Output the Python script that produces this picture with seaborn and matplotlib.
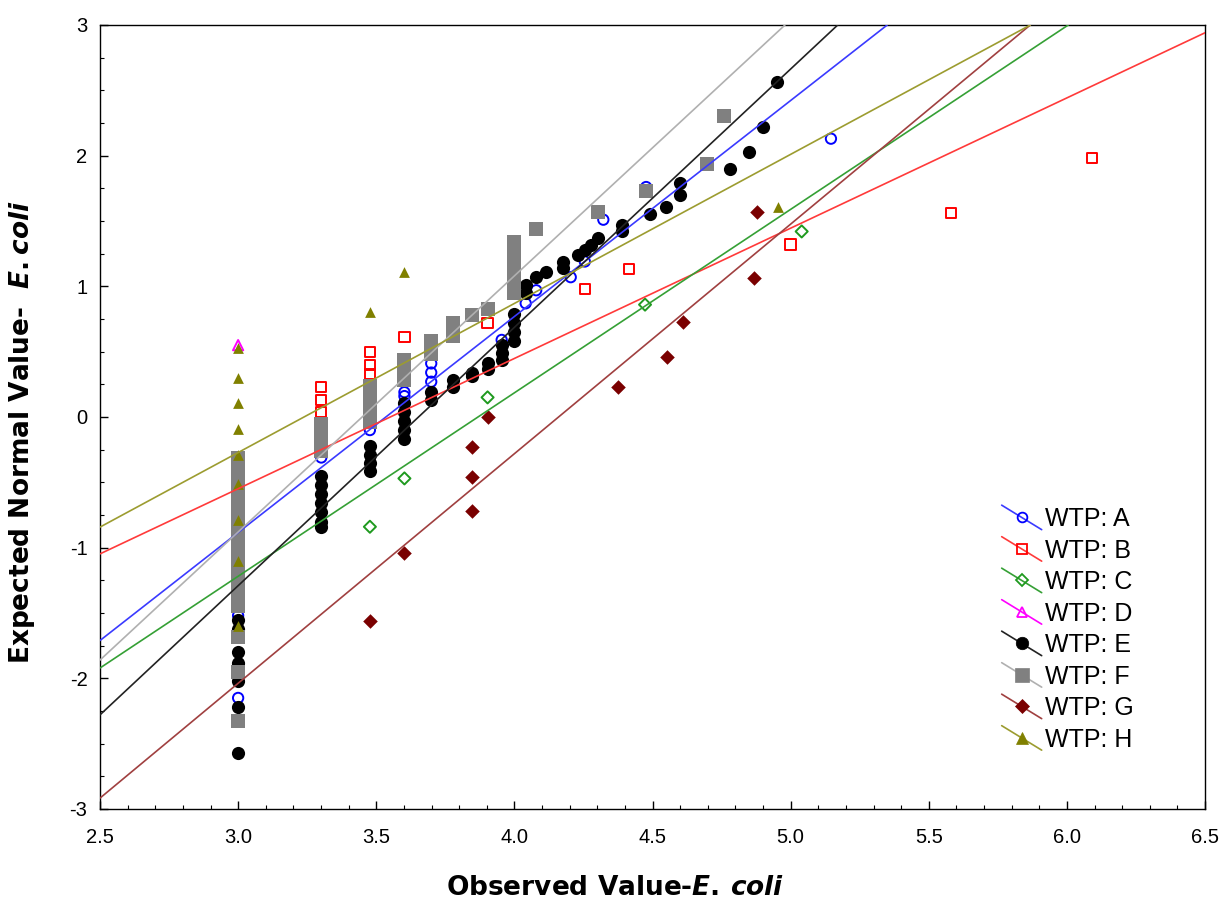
import matplotlib
matplotlib.use("Agg")
import matplotlib.pyplot as plt
from matplotlib.lines import Line2D
from matplotlib.legend_handler import HandlerLine2D
from matplotlib.ticker import MultipleLocator, FormatStrFormatter
import seaborn as sns

# observed log10 E. coli values and expected normal scores, per plant
A_x = [3.0, 3.0, 3.301, 3.477, 3.602, 3.602, 3.699, 3.699, 3.699, 3.954,
       4.041, 4.079, 4.204, 4.255, 4.322, 4.477, 5.146]
A_y = [-2.15, -1.52, -0.31, -0.10, 0.16, 0.19, 0.27, 0.34, 0.41, 0.59,
       0.87, 0.97, 1.07, 1.19, 1.51, 1.76, 2.13]

B_x = [3.301, 3.301, 3.301, 3.477, 3.477, 3.477, 3.602, 3.903, 4.255, 4.415,
       5.0, 5.58, 6.09]
B_y = [0.23, 0.13, 0.04, 0.50, 0.40, 0.33, 0.61, 0.72, 0.98, 1.13,
       1.32, 1.56, 1.98]

C_x = [3.477, 3.602, 3.903, 4.473, 5.04]
C_y = [-0.84, -0.47, 0.15, 0.86, 1.42]

D_x = [3.0]
D_y = [0.55]

E_x = [3.0, 3.0, 3.0, 3.0, 3.0, 3.0, 3.0,
       3.301, 3.301, 3.301, 3.301, 3.301, 3.301, 3.301,
       3.477, 3.477, 3.477, 3.477,
       3.602, 3.602, 3.602, 3.602, 3.602,
       3.699, 3.699, 3.778, 3.778, 3.845, 3.845, 3.903, 3.903,
       3.954, 3.954, 3.954, 4.0, 4.0, 4.0, 4.0,
       4.041, 4.041, 4.079, 4.114, 4.176, 4.176, 4.23, 4.255, 4.279, 4.301,
       4.39, 4.39, 4.49, 4.55, 4.60, 4.60, 4.78, 4.85, 4.90, 4.95]
E_y = [-1.55, -1.62, -1.80, -1.88, -2.02, -2.22, -2.57,
       -0.45, -0.52, -0.59, -0.66, -0.73, -0.80, -0.84,
       -0.22, -0.29, -0.35, -0.41,
       0.11, 0.04, -0.03, -0.10, -0.17,
       0.19, 0.13, 0.28, 0.23, 0.34, 0.31, 0.41, 0.37,
       0.55, 0.49, 0.44, 0.79, 0.72, 0.65, 0.58,
       1.01, 0.95, 1.07, 1.11, 1.19, 1.14, 1.24, 1.28, 1.32, 1.37,
       1.47, 1.42, 1.55, 1.61, 1.79, 1.70, 1.90, 2.03, 2.22, 2.56]

F_x = [3.0] * 18 + [3.301] * 4 + [3.477] * 5 + [3.602] * 3 + [3.699] * 2 + \
      [3.778] * 2 + [3.845, 3.903] + [4.0] * 6 + [4.079, 4.301, 4.477, 4.699, 4.76]
F_y = [-0.31, -0.39, -0.47, -0.55, -0.63, -0.71, -0.79, -0.87, -0.95, -1.03,
       -1.11, -1.19, -1.27, -1.35, -1.45, -1.68, -1.95, -2.33,
       -0.05, -0.12, -0.19, -0.26,
       0.24, 0.16, 0.08, 0.01, -0.04,
       0.44, 0.36, 0.28,
       0.58, 0.48,
       0.72, 0.62, 0.78, 0.83,
       1.34, 1.26, 1.18, 1.10, 1.02, 0.95,
       1.44, 1.57, 1.73, 1.94, 2.30]

G_x = [3.477, 3.602, 3.845, 3.845, 3.845, 3.903, 4.375, 4.552, 4.61, 4.867, 4.878]
G_y = [-1.56, -1.04, -0.72, -0.46, -0.23, 0.0, 0.23, 0.46, 0.73, 1.06, 1.57]

H_x = [3.0] * 9 + [3.477, 3.602, 4.954]
H_y = [0.53, 0.30, 0.11, -0.09, -0.29, -0.51, -0.79, -1.10, -1.60, 0.80, 1.11, 1.61]

groups = ["A", "B", "C", "D", "E", "F", "G", "H"]
xs = [A_x, B_x, C_x, D_x, E_x, F_x, G_x, H_x]
ys = [A_y, B_y, C_y, D_y, E_y, F_y, G_y, H_y]
# fitted lines: intercept, slope (None = no line)
intercepts = [-5.843, -3.54, -5.431, None, -7.222, -6.76, -7.309, -3.695]
slopes = [1.653, 0.997, 1.404, None, 1.977, 1.96, 1.757, 1.141]

mark_col = ["#0000ff", "#ff0000", "#1f9a1f", "#ff00ff", "#000000", "#808080", "#7a0000", "#808000"]
line_col = ["#3a3aff", "#ff3a3a", "#35a035", "#ff00ff", "#222222", "#b0b0b0", "#a04040", "#9c9c30"]
markers = ["o", "s", "D", "^", "o", "s", "D", "^"]
hollow = [True, True, True, True, False, False, False, False]
sizes = [55, 55, 38, 55, 90, 100, 55, 60]
leg_ms = [7, 7, 6, 7, 9, 10, 7, 8]

sns.set_theme(style="ticks")
plt.rcParams["font.family"] = ["Liberation Sans", "DejaVu Sans"]
plt.rcParams["axes.unicode_minus"] = False
plt.rcParams["text.color"] = "black"
plt.rcParams["axes.labelcolor"] = "black"
plt.rcParams["mathtext.fontset"] = "custom"
plt.rcParams["mathtext.rm"] = "DejaVu Sans:bold"
plt.rcParams["mathtext.it"] = "DejaVu Sans:italic:bold"

fig = plt.figure(figsize=(12.25, 9.02), dpi=100)
ax = fig.add_axes([100 / 1225, 1 - 809 / 902, 1105 / 1225, 784 / 902])

handles = []
for g, x, y, mc, lc, m, h, s, lm, a, b in zip(groups, xs, ys, mark_col, line_col, markers,
                                               hollow, sizes, leg_ms, intercepts, slopes):
    sns.scatterplot(x=x, y=y, ax=ax, marker=m, s=s, color=mc, linewidth=0, zorder=2)
    pts = ax.collections[-1]
    if h:
        pts.set_facecolor("none")
        pts.set_edgecolor(mc)
        pts.set_linewidth(1.4)
    if a is not None:
        ax.axline((0, a), slope=b, color=lc, lw=1.2, zorder=3)
    handles.append(Line2D([], [], color=lc, lw=1.2, marker=m, ms=lm,
                          mfc="none" if h else mc, mec=mc, mew=1.3 if h else 0.5,
                          label=f"WTP: {g}"))


class SlantHandler(HandlerLine2D):
    def create_artists(self, legend, orig, xdescent, ydescent, width, height, fontsize, trans):
        x0 = -xdescent
        x1 = x0 + width
        ym = -ydescent + height / 2
        dy = height * 0.7
        ln = Line2D([x0, x1], [ym + dy, ym - dy], color=orig.get_color(), lw=orig.get_linewidth())
        mk = Line2D([(x0 + x1) / 2], [ym], ls="none", marker=orig.get_marker(),
                    ms=orig.get_markersize(), mfc=orig.get_markerfacecolor(),
                    mec=orig.get_markeredgecolor(), mew=orig.get_markeredgewidth())
        ln.set_transform(trans)
        mk.set_transform(trans)
        return [ln, mk]


leg = ax.legend(handles=handles, handler_map={Line2D: SlantHandler()}, loc="upper left",
                bbox_to_anchor=(0.816, 0.385), frameon=False, fontsize=18,
                handlelength=1.6, handletextpad=0.15, labelspacing=0.3,
                borderpad=0, borderaxespad=0)
for t in leg.get_texts():
    t.set_color("black")

ax.set_xlim(2.5, 6.5)
ax.set_ylim(-3, 3)
ax.xaxis.set_major_locator(MultipleLocator(0.5))
ax.xaxis.set_minor_locator(MultipleLocator(0.1))
ax.yaxis.set_major_locator(MultipleLocator(1))
ax.yaxis.set_minor_locator(MultipleLocator(0.25))
ax.xaxis.set_major_formatter(FormatStrFormatter("%.1f"))
ax.tick_params(which="both", direction="in", colors="black", labelsize=14.5,
               bottom=True, left=True, top=False, right=False)
ax.tick_params(which="major", length=6, width=1)
ax.tick_params(which="minor", length=3, width=0.8)
ax.tick_params(axis="x", pad=14)
ax.tick_params(axis="y", pad=9)
for sp in ax.spines.values():
    sp.set_visible(True)
    sp.set_color("black")
    sp.set_linewidth(1)

ax.set_xlabel("Observed Value-$E.$$\\,$$coli$", fontsize=19, fontweight="bold",
              family="DejaVu Sans", color="black")
ax.set_ylabel("Expected Normal Value-  $E.coli$", fontsize=19, fontweight="bold",
              family="DejaVu Sans", color="black")
ax.xaxis.set_label_coords(0.466, -0.084)
ax.yaxis.set_label_coords(-0.057, 0.48)

fig.savefig("out.png", dpi=100)
